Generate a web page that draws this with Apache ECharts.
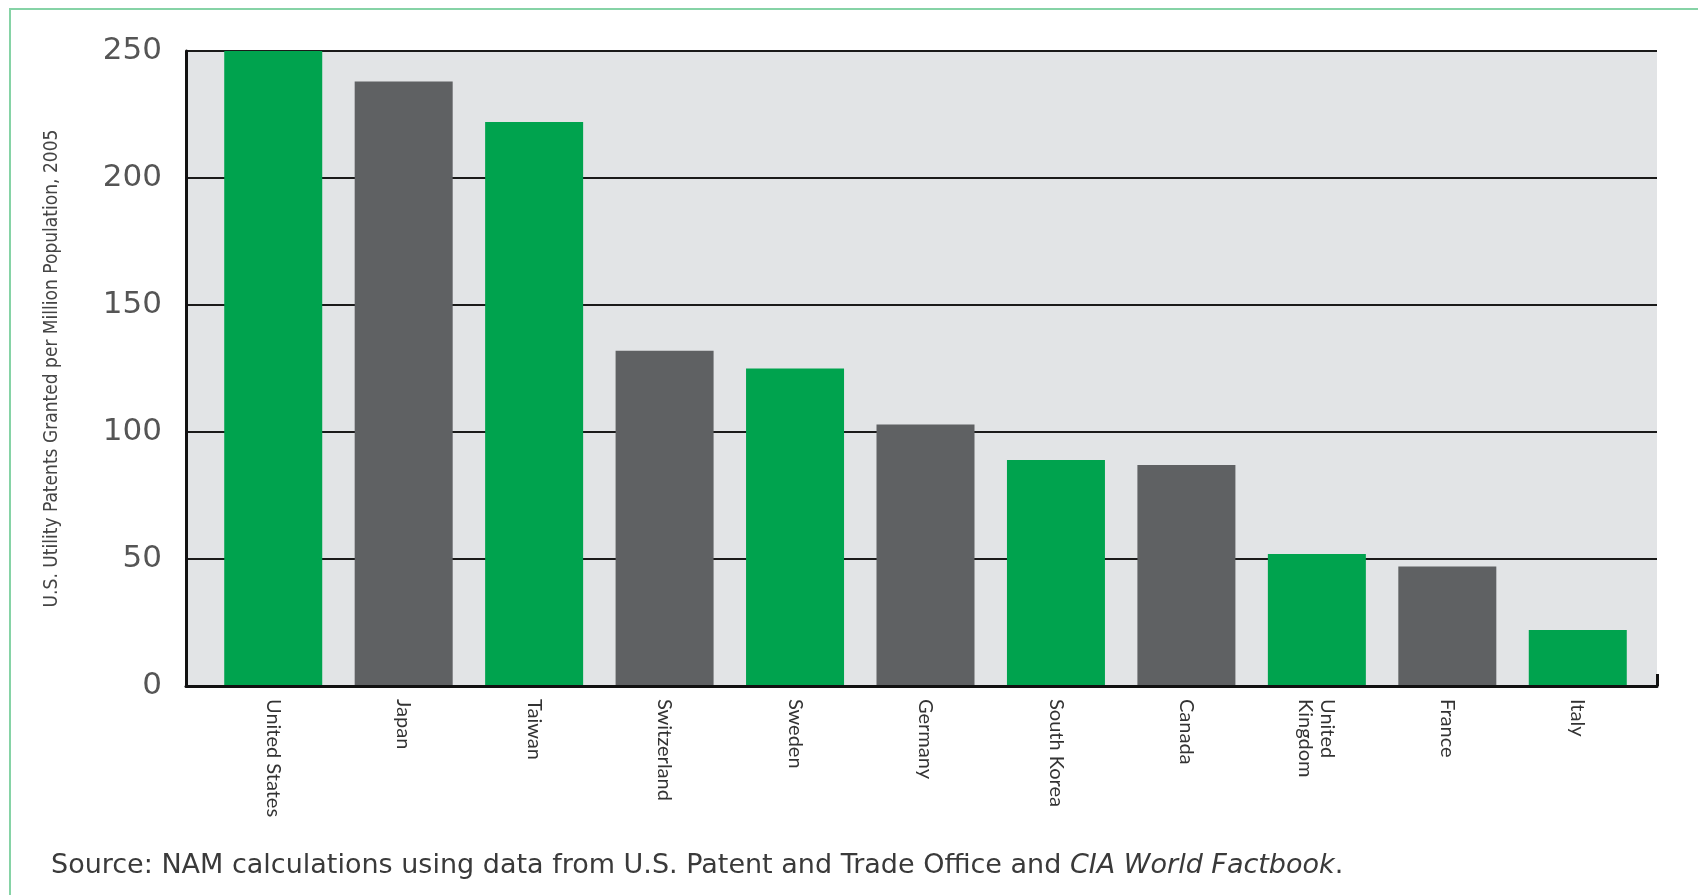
<!DOCTYPE html>
<html>
<head>
<meta charset="utf-8">
<script src="https://cdn.jsdelivr.net/npm/echarts@6/dist/echarts.min.js"></script>
<style>
  html, body { margin: 0; padding: 0; background: #fff; }
  #chart { width: 1698px; height: 895px; }
</style>
</head>
<body>
<div id="chart"></div>
<script>
// countries in the order they appear
const countries = ['United States', 'Japan', 'Taiwan', 'Switzerland', 'Sweden', 'Germany',
  'South Korea', 'Canada', 'United\nKingdom', 'France', 'Italy']
// patents per million population, 2005
const patents = [250, 238, 222, 132, 125, 103, 89, 87, 52, 47, 22]
const yTicks = [0, 50, 100, 150, 200, 250]

const GREEN = '#00a34e'
const GREY = '#5f6163'

const chart = echarts.init(document.getElementById('chart'))

const option = {
  animation: false,
  graphic: [
    {
      // thin green frame round the figure
      type: 'rect',
      z: -10,
      shape: { x: 10, y: 9, width: 1800, height: 1000 },
      style: { fill: 'none', stroke: '#86d3a6', lineWidth: 2 }
    }
  ],
  title: {
    left: 46,
    top: 847,
    text: '{a|Source: NAM calculations using data from U.S. Patent and Trade Office and }{b|CIA World Factbook}{a|.}',
    textStyle: {
      fontWeight: 'normal',
      rich: {
        a: { fontFamily: 'DejaVu Sans', fontSize: 27, fontWeight: 'normal', color: '#3a3a3a' },
        b: { fontFamily: 'DejaVu Sans', fontSize: 27, fontWeight: 'normal', color: '#3a3a3a', fontStyle: 'italic' }
      }
    }
  },
  grid: [
    // bars
    { left: 208, right: 55, top: 51, bottom: 209 },
    // grey panel, gridlines and axis lines
    { left: 186, right: 41, top: 51, bottom: 209, show: true, backgroundColor: '#e2e4e6', borderWidth: 0 }
  ],
  xAxis: [
    {
      gridIndex: 0,
      type: 'category',
      data: countries,
      axisLine: { show: false },
      axisTick: { show: false },
      axisLabel: {
        rotate: -90,
        margin: 13,
        fontFamily: 'Lato',
        fontSize: 20,
        lineHeight: 22,
        color: '#333'
      }
    },
    {
      gridIndex: 1,
      type: 'category',
      data: ['', ''],
      boundaryGap: false,
      z: 10,
      axisLine: { lineStyle: { color: '#111', width: 3 } },
      axisTick: { inside: true, length: 12, lineStyle: { color: '#111', width: 3 } },
      axisLabel: { show: false }
    }
  ],
  yAxis: [
    {
      gridIndex: 0,
      type: 'value',
      min: 0,
      max: 250,
      interval: 50,
      show: false
    },
    {
      gridIndex: 1,
      type: 'value',
      min: yTicks[0],
      max: yTicks[yTicks.length - 1],
      interval: 50,
      name: 'U.S. Utility Patents Granted per Million Population, 2005',
      nameLocation: 'middle',
      nameGap: 124,
      nameTextStyle: {
        fontFamily: 'Liberation Sans Narrow, DejaVu Sans Condensed, sans-serif',
        fontSize: 19,
        color: '#444'
      },
      axisLine: { show: true, lineStyle: { color: '#111', width: 3 } },
      axisTick: { show: false },
      axisLabel: {
        margin: 24,
        fontFamily: 'DejaVu Sans',
        fontSize: 31,
        color: '#555'
      },
      splitLine: { show: true, lineStyle: { color: '#1a1a1a', width: 2 } }
    }
  ],
  series: [
    {
      type: 'bar',
      xAxisIndex: 0,
      yAxisIndex: 0,
      barWidth: 98,
      data: patents.map((v, i) => ({
        value: v,
        itemStyle: { color: i % 2 === 0 ? GREEN : GREY }
      }))
    }
  ]
}

chart.setOption(option)
</script>
</body>
</html>
